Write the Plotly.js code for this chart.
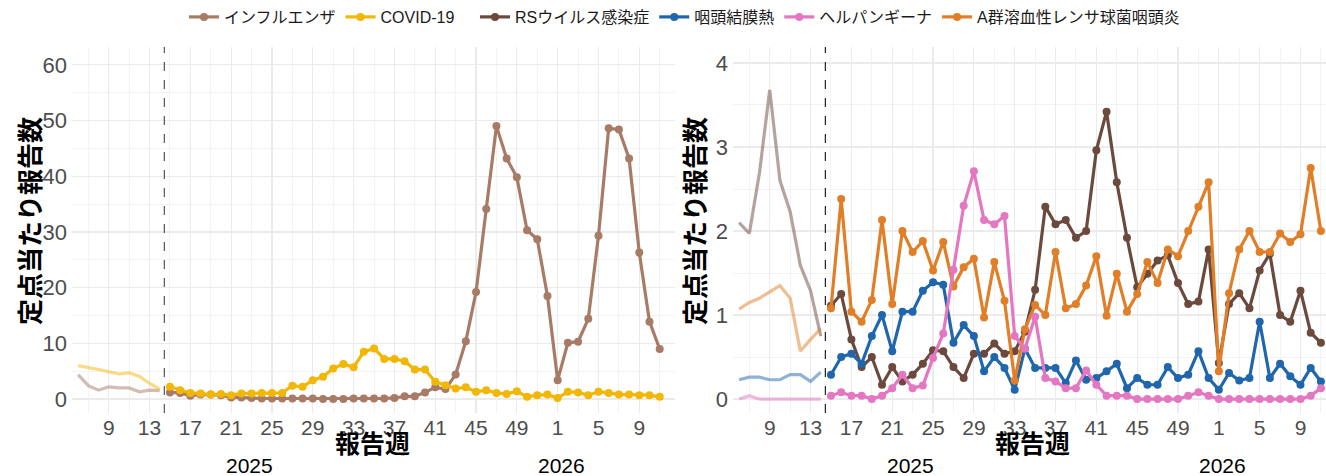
<!DOCTYPE html>
<html>
<head>
<meta charset="utf-8">
<script src="https://cdn.plot.ly/plotly-3.0.1.min.js"></script>
<style>html,body{margin:0;padding:0;background:#fff}#chart{width:1326px;height:476px}</style>
</head>
<body>
<div id="chart"></div>
<script>
// Report weeks: 2025 W6..W52, 2026 W1..W11
const weekNum = [6,7,8,9,10,11,12,13,14,15,16,17,18,19,20,21,22,23,24,25,26,27,28,29,30,31,32,33,34,35,36,37,38,39,40,41,42,43,44,45,46,47,48,49,50,51,52,1,2,3,4,5,6,7,8,9,10,11];
const weekYear = [2025,2025,2025,2025,2025,2025,2025,2025,2025,2025,2025,2025,2025,2025,2025,2025,2025,2025,2025,2025,2025,2025,2025,2025,2025,2025,2025,2025,2025,2025,2025,2025,2025,2025,2025,2025,2025,2025,2025,2025,2025,2025,2025,2025,2025,2025,2025,2026,2026,2026,2026,2026,2026,2026,2026,2026,2026,2026];
const nFaded = 9; // weeks before the dashed line (W6..W14 of 2025)
const yearLabels = ["2025", "2026"];
const yearLabelWeek = [16.8, 47.4];

// Left panel
const influenza = [4.4,2.4,1.6,2.2,2.0,2.0,1.3,1.6,1.5,
  1.2,1.1,0.6,0.8,0.8,0.7,0.3,0.3,0.2,0.1,0.1,0.1,0.1,0.1,0.1,
  0.0,0.0,0.0,0.1,0.1,0.1,0.1,0.2,0.5,0.5,1.2,2.1,1.8,4.4,10.4,19.2,34.1,49.0,43.2,39.8,30.3,28.7,18.5,
  3.4,10.1,10.3,14.4,29.3,48.6,48.4,43.2,26.3,13.9,9.0];
const covid = [6.0,5.7,5.3,4.9,4.5,4.7,4.1,2.8,1.8,
  2.2,1.6,1.1,1.0,0.8,0.9,0.7,1.0,1.0,1.1,1.1,1.1,2.4,2.2,3.4,
  4.0,5.5,6.3,5.7,8.5,9.1,7.2,7.2,6.8,5.3,5.3,3.1,2.5,1.9,2.1,1.3,1.6,1.1,0.9,1.4,0.4,0.7,0.8,
  0.2,1.3,1.2,0.7,1.3,1.1,0.8,0.8,0.7,0.7,0.4];
// Right panel
const rsv = [2.10,1.97,2.70,3.68,2.60,2.23,1.59,1.29,0.75,
  1.11,1.25,0.71,0.38,0.50,0.17,0.38,0.21,0.29,0.42,0.58,0.57,0.38,0.25,0.54,0.54,0.66,0.54,
  0.57,0.80,1.30,2.29,2.08,2.13,1.92,2.00,2.96,3.42,2.58,1.92,1.33,1.49,1.65,1.71,1.38,1.13,1.16,1.78,
  0.43,1.13,1.26,1.08,1.53,1.73,1.00,0.92,1.29,0.79,0.67];
const pcf = [0.23,0.26,0.26,0.23,0.23,0.29,0.29,0.21,0.32,
  0.29,0.50,0.54,0.42,0.75,1.00,0.57,1.04,1.04,1.29,1.39,1.36,0.67,0.88,0.75,0.33,0.50,0.37,
  0.11,0.60,0.37,0.37,0.37,0.19,0.46,0.23,0.25,0.33,0.42,0.13,0.25,0.17,0.17,0.38,0.25,0.29,0.57,0.25,
  0.11,0.31,0.22,0.25,0.92,0.25,0.42,0.27,0.17,0.37,0.21];
const herpangina = [0,0.04,0,0,0,0,0,0,0,
  0.04,0.08,0.04,0.04,0.00,0.04,0.13,0.29,0.13,0.16,0.49,0.78,1.54,2.30,2.71,2.13,2.08,2.18,
  0.75,0.60,0.98,0.25,0.21,0.13,0.13,0.34,0.17,0.04,0.04,0.04,0,0,0,0,0,0.04,0.08,0.04,
  0,0,0,0,0,0,0,0,0,0.04,0.13];
const strepA = [1.07,1.15,1.20,1.27,1.35,1.20,0.57,0.71,0.84,
  1.08,2.38,1.04,0.92,1.18,2.13,1.13,2.00,1.75,1.88,1.53,1.87,1.34,1.57,1.67,0.97,1.63,1.17,
  0.22,0.83,1.12,1.00,1.75,1.08,1.13,1.35,1.70,0.99,1.49,1.04,1.25,1.63,1.38,1.78,1.70,2.00,2.29,2.58,
  0.33,1.26,1.78,2.00,1.75,1.75,1.97,1.87,1.96,2.75,2.00];

const names = ["インフルエンザ","COVID-19","RSウイルス感染症","咽頭結膜熱","ヘルパンギーナ","A群溶血性レンサ球菌咽頭炎"];
const colors = ["#a87b66","#f2b705","#6b4a3d","#1f66ad","#e377c2","#e07f27"];

const xIdx = weekNum.map((w, i) => i);
const FONT = "Liberation Sans, Arial, 'Noto Sans CJK JP', sans-serif";
const JFONT = "'Noto Sans CJK JP', 'Liberation Sans', sans-serif";
const LFONT = "'Liberation Sans', 'Noto Sans CJK JP', sans-serif";

function series(vals, k, xa, ya, lg) {
  const out = [];
  out.push({
    x: xIdx.slice(0, nFaded), y: vals.slice(0, nFaded), xaxis: xa, yaxis: ya,
    type: 'scatter', mode: 'lines', opacity: 0.5, showlegend: false, hoverinfo: 'skip',
    line: {color: colors[k], width: 3.2}
  });
  out.push({
    x: xIdx.slice(nFaded), y: vals.slice(nFaded), xaxis: xa, yaxis: ya,
    type: 'scatter', mode: 'lines+markers', name: names[k], legendrank: k + 1, legend: lg,
    line: {color: colors[k], width: 3.2}, marker: {color: colors[k], size: 8}
  });
  return out;
}

const data = [].concat(
  series(influenza, 0, 'x', 'y', 'legend'),
  series(covid, 1, 'x', 'y', 'legend'),
  series(rsv, 2, 'x2', 'y2', 'legend2'),
  series(pcf, 3, 'x2', 'y2', 'legend2'),
  series(strepA, 5, 'x2', 'y2', 'legend2'),
  series(herpangina, 4, 'x2', 'y2', 'legend2')
);

const tickVals = xIdx.filter(i => (weekNum[i] - 1) % 4 === 0);
const tickText = tickVals.map(i => String(weekNum[i]));
const minorVals = xIdx.filter(i => weekNum[i] % 2 === 1);

const W = 1326, H = 476, T = 47, B = 63;
const plotH = H - T - B;
const px = v => v / W;
const py = v => (H - B - v) / plotH;

function xaxisDef(domain, range) {
  return {
    domain: domain, range: range, tickmode: 'array', tickvals: tickVals, ticktext: tickText,
    showgrid: true, gridcolor: '#ebebeb', gridwidth: 1.2, zeroline: false, showline: false,
    ticks: '', tickfont: {family: FONT, size: 21, color: '#4d4d4d'},
    minor: {tickmode: 'array', tickvals: minorVals, showgrid: true, gridcolor: '#f3f3f3', gridwidth: 1, ticks: ''},
    fixedrange: true
  };
}
function yaxisDef(range, dtick) {
  return {
    range: range, dtick: dtick, tick0: 0,
    showgrid: true, gridcolor: '#ebebeb', gridwidth: 1.2, zeroline: false, showline: false,
    ticks: '', ticklabelstandoff: 4, tickfont: {family: FONT, size: 22, color: '#4d4d4d'},
    minor: {dtick: dtick / 2, tick0: 0, showgrid: true, gridcolor: '#f3f3f3', gridwidth: 1, ticks: ''},
    fixedrange: true
  };
}

const annotations = [];
[28, 693].forEach(xp => {
  annotations.push({xref: 'paper', yref: 'paper', x: px(xp), y: py(221), text: '<b>定点当たり報告数</b>',
    textangle: -90, showarrow: false, xanchor: 'center', yanchor: 'middle',
    font: {family: JFONT, size: 26, color: '#000'}});
});
[['x', 372], ['x2', 1032]].forEach(([xa, cx]) => {
  annotations.push({xref: 'paper', yref: 'paper', x: px(cx), y: py(442), text: '<b>報告週</b>',
    showarrow: false, xanchor: 'center', yanchor: 'middle', font: {family: JFONT, size: 25, color: '#000'}});
  yearLabels.forEach((t, j) => {
    annotations.push({xref: xa, yref: 'paper', x: yearLabelWeek[j], y: py(465), text: t,
      showarrow: false, xanchor: 'center', yanchor: 'middle', font: {family: FONT, size: 21, color: '#000'}});
  });
});

const dashX = nFaded - 0.55;
const shapes = [
  {type: 'line', xref: 'x', yref: 'y domain', x0: dashX, x1: dashX, y0: 0, y1: 1, line: {color: '#555', width: 1.2, dash: 'dash'}},
  {type: 'line', xref: 'x2', yref: 'y2 domain', x0: dashX, x1: dashX, y0: 0, y1: 1, line: {color: '#222', width: 1.2, dash: 'dash'}}
];

const legendBase = {orientation: 'h', yref: 'container', y: 1 - 17 / H, yanchor: 'middle', xanchor: 'center',
  font: {family: LFONT, size: 16, color: '#1a1a1a'}, itemwidth: 30, bgcolor: 'rgba(0,0,0,0)', borderwidth: 0};

const layout = {
  width: W, height: H,
  margin: {l: 0, r: 0, t: T, b: B},
  paper_bgcolor: '#fff', plot_bgcolor: '#fff',
  showlegend: true,
  legend: Object.assign({}, legendBase, {x: px(322)}),
  legend2: Object.assign({}, legendBase, {x: px(830)}),
  xaxis: Object.assign(xaxisDef([px(72), px(675)], [-0.6, 58.5]), {anchor: 'y'}),
  yaxis: Object.assign(yaxisDef([-2.5, 63.2], 10), {anchor: 'x'}),
  xaxis2: Object.assign(xaxisDef([px(733), 1], [-0.6, 57.5]), {anchor: 'y2'}),
  yaxis2: Object.assign(yaxisDef([-0.166, 4.19], 1), {anchor: 'x2'}),
  annotations: annotations,
  shapes: shapes
};

Plotly.newPlot('chart', data, layout, {displayModeBar: false, staticPlot: true});
</script>
</body>
</html>
